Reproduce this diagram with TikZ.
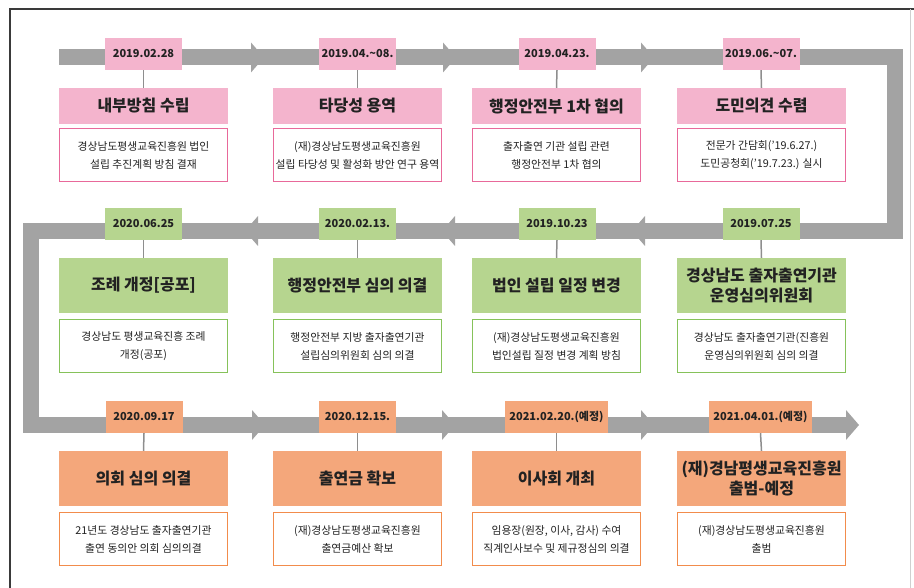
\documentclass[tikz,border=0pt]{standalone}
\usepackage{fontspec}
\setmainfont{Noto Sans CJK KR}
\definecolor{pinkF}{HTML}{F4B4CD}
\definecolor{pinkB}{HTML}{E8699A}
\definecolor{greenF}{HTML}{B6D58F}
\definecolor{greenB}{HTML}{86C25A}
\definecolor{orangeF}{HTML}{F4A77B}
\definecolor{orangeB}{HTML}{F28C4C}
\definecolor{bandgray}{HTML}{A3A3A3}
\definecolor{linkgray}{HTML}{8E8E8E}
\definecolor{ink}{HTML}{222222}
\definecolor{framedark}{HTML}{3A3A3A}
\definecolor{framelight}{HTML}{D0D0D0}
\newcommand\headR[2]{\fill[bandgray] (#1,#2-15) -- (#1+13,#2) -- (#1,#2+15) -- cycle;}
\newcommand\headL[2]{\fill[bandgray] (#1,#2-15) -- (#1-13,#2) -- (#1,#2+15) -- cycle;}
\begin{document}
\begin{tikzpicture}[x=1pt,y=-1pt,
  datetag/.style={fill=#1, minimum height=32pt, minimum width=77pt, inner sep=0pt,
    font=\bfseries\fontsize{11}{13}\selectfont, text=ink},
  titlebox/.style={fill=#1, minimum width=169pt, inner sep=0pt, align=center,
    font=\bfseries\fontsize{16}{19.5}\selectfont, text=ink},
  descbox/.style={draw=#1, fill=white, line width=1.3pt, minimum width=168pt,
    minimum height=53pt, inner sep=0pt, align=center,
    font=\fontsize{10.8}{18}\selectfont, text=ink},
  link/.style={draw=linkgray, line width=1.5pt},
  band/.style={draw=bandgray, line width=16pt, line join=miter}
]
\useasboundingbox (0,0) rectangle (914,588);
% frame
\draw[framedark, line width=1.2pt] (10,600) -- (10,9) -- (914,9);
\draw[framelight, line width=1pt] (910,9) -- (910,600);
% timeline band
\draw[band] (59,57.5) -- (894.5,57.5) -- (894.5,231) -- (31,231) -- (31,425) -- (847,425);
\headR{251}{57.5}
\headR{443}{57.5}
\headR{641}{57.5}
\headL{258}{231}
\headL{455}{231}
\headL{645}{231}
\headR{252}{425}
\headR{442}{425}
\headR{641}{425}
\headR{846}{425}

% ---------- row 1 ----------
\node[titlebox=pinkF, minimum height=36pt] (h11) at (143.5,106) {내부방침 수립};
\node[titlebox=pinkF, minimum height=36pt] (h12) at (357.5,106) {타당성 용역};
\node[titlebox=pinkF, minimum height=36pt] (h13) at (556.5,106) {행정안전부 1차 협의};
\node[titlebox=pinkF, minimum height=36pt] (h14) at (761.5,106) {도민의견 수렴};
\node[datetag=pinkF] (t11) at (143.5,54) {2019.02.28};
\node[datetag=pinkF] (t12) at (357.5,54) {2019.04.\textasciitilde08.};
\node[datetag=pinkF] (t13) at (557,54) {2019.04.23.};
\node[datetag=pinkF] (t14) at (761,54) {2019.06.\textasciitilde07.};
\node[descbox=pinkB] (d11) at (143.5,155) {경상남도평생교육진흥원 법인\\설립 추진계획 방침 결재};
\node[descbox=pinkB] (d12) at (357.5,155) {(재)경상남도평생교육진흥원\\설립 타당성 및 활성화 방안 연구 용역};
\node[descbox=pinkB] (d13) at (556.5,155) {출자출연 기관 설립 관련\\행정안전부 1차 협의};
\node[descbox=pinkB] (d14) at (761.5,155) {전문가 간담회('19.6.27.)\\도민공청회('19.7.23.) 실시};
\foreach \i in {1,2,3,4} {\draw[link] (t1\i.south) -- (h1\i.north);}

% ---------- row 2 ----------
\node[titlebox=greenF, minimum height=55pt] (h21) at (143.5,285.5) {조례 개정[공포]};
\node[titlebox=greenF, minimum height=55pt] (h22) at (357.5,285.5) {행정안전부 심의 의결};
\node[titlebox=greenF, minimum height=55pt] (h23) at (556.5,285.5) {법인 설립 일정 변경};
\node[titlebox=greenF, minimum height=55pt] (h24) at (761.5,285.5) {경상남도 출자출연기관\\운영심의위원회};
\node[datetag=greenF] (t21) at (143.5,224) {2020.06.25};
\node[datetag=greenF] (t22) at (357.5,224) {2020.02.13.};
\node[datetag=greenF] (t23) at (557,224) {2019.10.23};
\node[datetag=greenF] (t24) at (761,224) {2019.07.25};
\node[descbox=greenB] (d21) at (143.5,346) {경상남도 평생교육진흥 조례\\개정(공포)};
\node[descbox=greenB] (d22) at (357.5,346) {행정안전부 지방 출자출연기관\\설립심의위원회 심의 의결};
\node[descbox=greenB] (d23) at (556.5,346) {(재)경상남도평생교육진흥원\\법인설립 질정 변경 계획 방침};
\node[descbox=greenB] (d24) at (761.5,346) {경상남도 출자출연기관(진흥원\\운영심의위원회 심의 의결};
\foreach \i in {1,2,3,4} {\draw[link] (t2\i.south) -- (h2\i.north);}

% ---------- row 3 ----------
\node[titlebox=orangeF, minimum height=55pt] (h31) at (143.5,478.5) {의회 심의 의결};
\node[titlebox=orangeF, minimum height=55pt] (h32) at (357.5,478.5) {출연금 확보};
\node[titlebox=orangeF, minimum height=55pt] (h33) at (556.5,478.5) {이사회 개최};
\node[titlebox=orangeF, minimum height=55pt] (h34) at (761.5,478.5) {(재)경남평생교육진흥원\\출범-예정};
\node[datetag=orangeF] (t31) at (144,417) {2020.09.17};
\node[datetag=orangeF] (t32) at (357.5,417) {2020.12.15.};
\node[datetag=orangeF, minimum width=103pt] (t33) at (556.5,417) {2021.02.20.(예정)};
\node[datetag=orangeF, minimum width=103pt] (t34) at (760.5,417) {2021.04.01.(예정)};
\node[descbox=orangeB] (d31) at (143.5,539) {21년도 경상남도 출자출연기관\\출연 동의안 의회 심의의결};
\node[descbox=orangeB] (d32) at (357.5,539) {(재)경상남도평생교육진흥원\\출연금예산 확보};
\node[descbox=orangeB] (d33) at (556.5,539) {임용장(원장, 이사, 감사) 수여\\직계인사보수 및 제규정심의 의결};
\node[descbox=orangeB] (d34) at (761.5,539) {(재)경상남도평생교육진흥원\\출범};
\foreach \i in {1,2,3,4} {\draw[link] (t3\i.south) -- (h3\i.north);}
\end{tikzpicture}
\end{document}
